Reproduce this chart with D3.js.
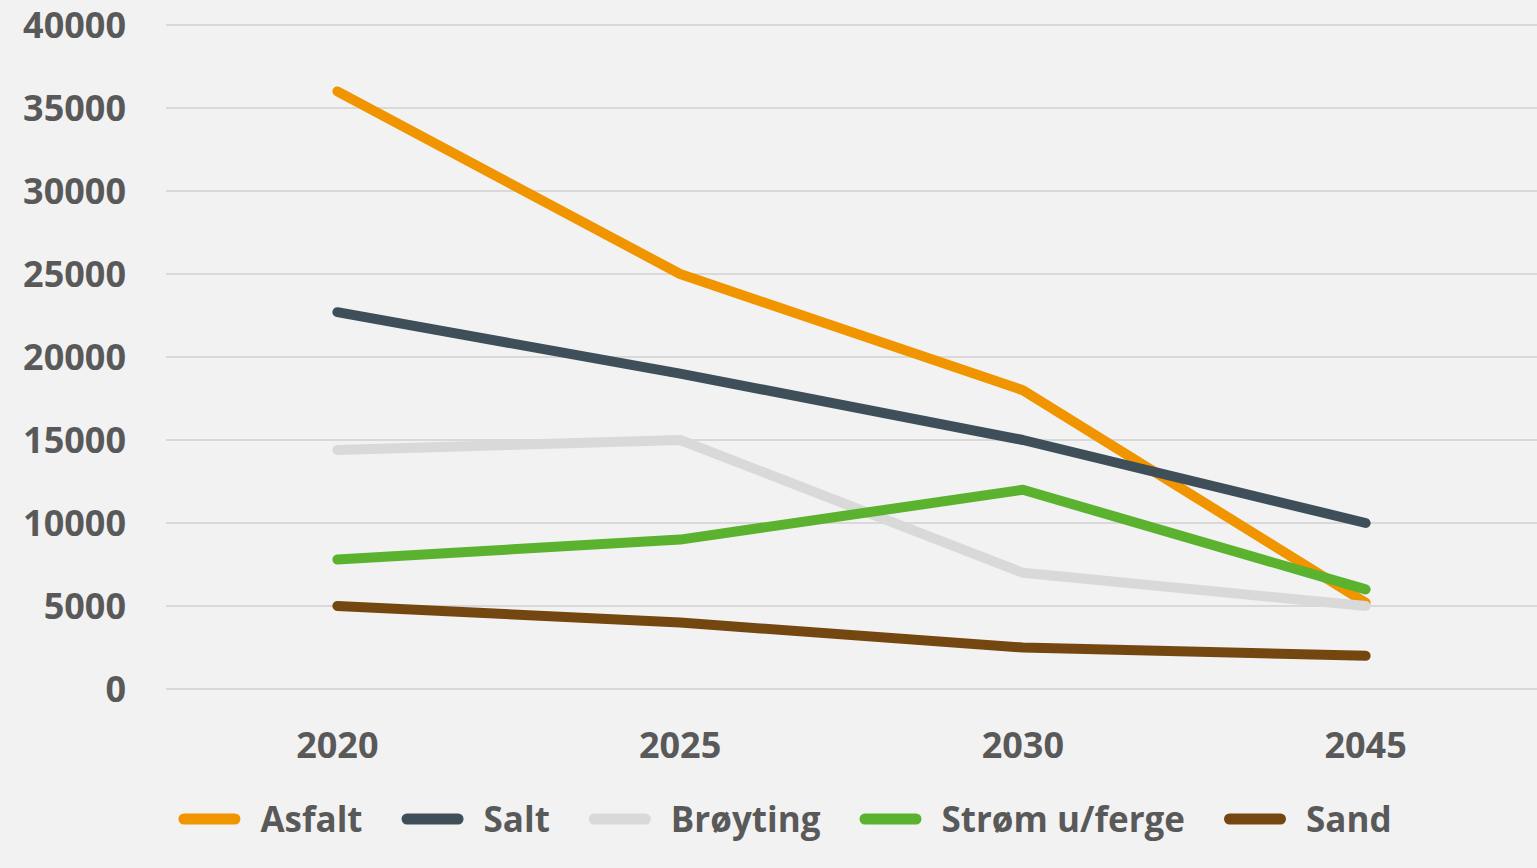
<!DOCTYPE html>
<html><head><meta charset="utf-8">
<script src="https://cdn.jsdelivr.net/npm/d3@7"></script>
<style>body{margin:0;background:#f2f2f2;} svg{display:block;}</style>
</head><body>
<svg id="c" width="1537" height="868"></svg>
<script>
const categories = ["2020","2025","2030","2045"];
const seriesNames = ["Asfalt","Salt","Brøyting","Strøm u/ferge","Sand"];
const asfalt = [36000,25000,18000,5200];
const salt = [22700,19000,15000,10000];
const broyting = [14400,15000,7000,5000];
const strom = [7800,9000,12000,6000];
const sand = [5000,4000,2500,2000];
const yTicks = [0,5000,10000,15000,20000,25000,30000,35000,40000];
const colors = ["#f09400","#3e4f5a","#d9d9d9","#5ab22f","#754710"];
const values = [asfalt,salt,broyting,strom,sand];

(function(){
const svg = d3.select("#c");
const W=1537,H=868;
svg.append("rect").attr("width",W).attr("height",H).attr("fill","#f2f2f2");
const pLeft=166,pRight=1537,pTop=25,pBottom=689;
const x = d3.scaleBand().domain(categories).range([pLeft,pRight]);
const y = d3.scaleLinear().domain([0,40000]).range([pBottom,pTop]);
const font = "'Open Sans', sans-serif";

svg.append("g").selectAll("line").data(yTicks).join("line")
  .attr("x1",pLeft).attr("x2",pRight)
  .attr("y1",d=>y(d)).attr("y2",d=>y(d))
  .attr("stroke","#d9d9d9").attr("stroke-width",2);

const ya = svg.append("g").attr("transform",`translate(${pLeft-40},0)`)
  .call(d3.axisLeft(y).tickValues(yTicks).tickSize(0).tickPadding(0).tickFormat(d3.format("d")));
ya.select(".domain").remove();
ya.selectAll("text").attr("font-family",font).attr("font-weight",700)
  .attr("font-size",36).attr("fill","#595959").attr("dy","0.36em");

const xa = svg.append("g").attr("transform",`translate(0,${pBottom})`)
  .call(d3.axisBottom(x).tickSize(0).tickPadding(0));
xa.select(".domain").remove();
xa.selectAll("text").attr("font-family",font).attr("font-weight",700)
  .attr("font-size",36).attr("fill","#595959").attr("dy","0").attr("y",69);

const line = d3.line().x((d,i)=>x(categories[i])+x.bandwidth()/2).y(d=>y(d));
values.forEach((v,k)=>{
  svg.append("path").attr("d",line(v)).attr("fill","none")
    .attr("stroke",colors[k]).attr("stroke-width",10)
    .attr("stroke-linecap","round").attr("stroke-linejoin","round");
});

const lg = svg.append("g");
const items = [];
seriesNames.forEach((n,k)=>{
  const g = lg.append("g");
  g.append("line").attr("x1",5.5).attr("x2",56.5).attr("y1",0).attr("y2",0)
    .attr("stroke",colors[k]).attr("stroke-width",11).attr("stroke-linecap","round");
  const t = g.append("text").attr("x",82).attr("y",0).attr("dy","0.36em")
    .attr("font-family",font).attr("font-weight",700).attr("font-size",35)
    .attr("fill","#595959").text(n);
  items.push({g,w:82+t.node().getComputedTextLength()});
});
const gap=39;
const total = d3.sum(items,d=>d.w)+gap*(items.length-1);
let cx = 785-total/2;
items.forEach(it=>{ it.g.attr("transform",`translate(${cx},819)`); cx+=it.w+gap; });
})();
</script>
</body></html>
